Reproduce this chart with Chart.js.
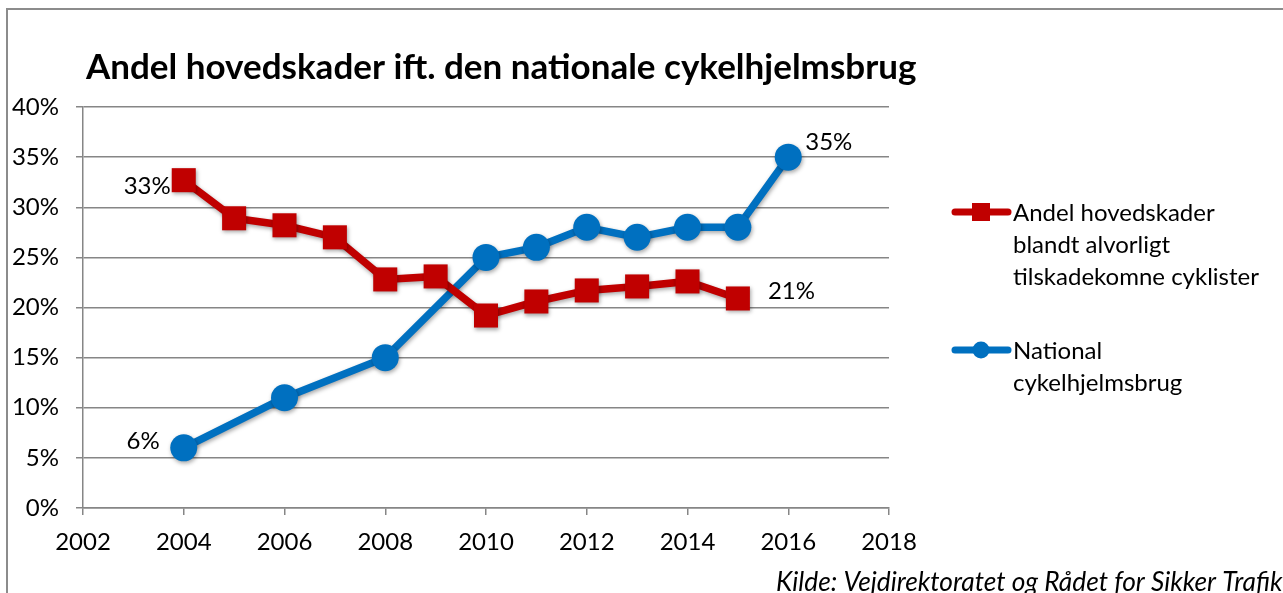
<!DOCTYPE html>
<html>
<head>
<meta charset="utf-8">
<script src="https://cdn.jsdelivr.net/npm/chart.js@4.4.0/dist/chart.umd.min.js"></script>
<style>
  html, body { margin: 0; padding: 0; background: #fff; }
  #wrap { width: 1283px; height: 593px; }
</style>
</head>
<body>
<div id="wrap"><canvas id="grafico"></canvas></div>
<script>
// dados
const anosSkader = [2004, 2005, 2006, 2007, 2008, 2009, 2010, 2011, 2012, 2013, 2014, 2015];
const andelSkader = [32.7, 28.9, 28.2, 27.0, 22.8, 23.1, 19.2, 20.6, 21.7, 22.1, 22.6, 20.9];

const anosHjelm = [2004, 2006, 2008, 2010, 2011, 2012, 2013, 2014, 2015, 2016];
const hjelmBrug = [6, 11, 15, 25, 26, 28, 27, 28, 28, 35];

const titulo = 'Andel hovedskader ift. den nationale cykelhjelmsbrug';
const legendaVermelha = ['Andel hovedskader', 'blandt alvorligt', 'tilskadekomne cyklister'];
const legendaAzul = ['National', 'cykelhjelmsbrug'];
const fonte = 'Kilde: Vejdirektoratet og Rådet for Sikker Trafik';

const VERMELHO = '#C00000';
const AZUL = '#0070C0';
const CINZA = '#868686';
const FONTE = 'Lato, "Open Sans", sans-serif';

// rótulos de dados: índice, texto, deslocamento
const rotulos = [
  { ds: 0, i: 0, texto: '33%', dx: -13, dy: 6, alinhar: 'right' },
  { ds: 0, i: 11, texto: '21%', dx: 30, dy: -7, alinhar: 'left' },
  { ds: 1, i: 0, texto: '6%', dx: -24, dy: -7, alinhar: 'right' },
  { ds: 1, i: 9, texto: '35%', dx: 17, dy: -15, alinhar: 'left' }
];

// moldura, título, legenda e fonte
const pluginExtras = {
  id: 'extras',
  beforeDraw(chart) {
    const ctx = chart.ctx;
    ctx.save();
    ctx.strokeStyle = '#8c8c8c';
    ctx.lineWidth = 2;
    ctx.beginPath();
    ctx.moveTo(7, 600);
    ctx.lineTo(7, 9);
    ctx.lineTo(1290, 9);
    ctx.stroke();
    ctx.restore();
  },
  beforeDatasetsDraw(chart) {
    chart.ctx.save();
    chart.ctx.shadowColor = 'rgba(0,0,0,0.35)';
    chart.ctx.shadowBlur = 4;
    chart.ctx.shadowOffsetX = 1;
    chart.ctx.shadowOffsetY = 2;
  },
  afterDatasetsDraw(chart) {
    chart.ctx.restore();
  },
  afterDraw(chart) {
    const ctx = chart.ctx;
    ctx.save();
    ctx.fillStyle = '#000';
    ctx.textBaseline = 'alphabetic';

    // título
    ctx.font = 'bold 35px ' + FONTE;
    ctx.textAlign = 'left';
    ctx.fillText(titulo, 86, 79);

    // rótulos dos pontos
    ctx.font = '24px ' + FONTE;
    ctx.textBaseline = 'middle';
    rotulos.forEach(r => {
      const p = chart.getDatasetMeta(r.ds).data[r.i];
      ctx.textAlign = r.alinhar;
      ctx.fillText(r.texto, p.x + r.dx, p.y + r.dy);
    });

    // legenda
    function itemLegenda (y, cor, estilo, linhas) {
      ctx.strokeStyle = cor;
      ctx.lineWidth = 7;
      ctx.lineCap = 'round';
      ctx.beginPath();
      ctx.moveTo(955, y);
      ctx.lineTo(1008, y);
      ctx.stroke();
      ctx.fillStyle = cor;
      if (estilo === 'rect') {
        ctx.fillRect(972, y - 9, 18, 18);
      } else {
        ctx.beginPath();
        ctx.arc(981, y, 8.5, 0, Math.PI * 2);
        ctx.fill();
      }
      ctx.fillStyle = '#000';
      ctx.textAlign = 'left';
      linhas.forEach((l, k) => ctx.fillText(l, 1013, y + 1 + k * 32));
    }
    itemLegenda(212, VERMELHO, 'rect', legendaVermelha);
    itemLegenda(350, AZUL, 'circle', legendaAzul);

    // fonte
    ctx.font = 'italic 26.3px ' + FONTE;
    ctx.textBaseline = 'alphabetic';
    ctx.fillText(fonte, 776, 591);
    ctx.restore();
  }
};

new Chart(document.getElementById('grafico'), {
  type: 'line',
  data: {
    datasets: [
      {
        label: legendaVermelha.join(' '),
        data: anosSkader.map((a, k) => ({ x: a, y: andelSkader[k] })),
        borderColor: VERMELHO,
        backgroundColor: VERMELHO,
        borderWidth: 7.5,
        pointStyle: 'rect',
        pointRadius: 17,
        pointBorderWidth: 0,
        tension: 0
      },
      {
        label: legendaAzul.join(' '),
        data: anosHjelm.map((a, k) => ({ x: a, y: hjelmBrug[k] })),
        borderColor: AZUL,
        backgroundColor: AZUL,
        borderWidth: 7.5,
        pointStyle: 'circle',
        pointRadius: 13.5,
        pointBorderWidth: 0,
        tension: 0
      }
    ]
  },
  options: {
    responsive: true,
    maintainAspectRatio: false,
    animation: false,
    layout: { padding: { top: 107, left: 0, right: 1283 - 889, bottom: 0 } },
    plugins: {
      legend: { display: false },
      tooltip: { enabled: false }
    },
    scales: {
      x: {
        type: 'linear',
        min: 2002,
        max: 2018,
        ticks: { stepSize: 2, color: '#000', font: { family: FONTE, size: 24 }, padding: 13,
                 callback: v => String(v), maxRotation: 0 },
        grid: { display: true, drawOnChartArea: false, color: CINZA, lineWidth: 1.5, tickLength: 7 },
        border: { color: CINZA, width: 1.5 },
        afterFit: s => { s.height = 593 - 508; }
      },
      y: {
        min: 0,
        max: 40,
        ticks: { stepSize: 5, color: '#000', font: { family: FONTE, size: 24 }, padding: 17,
                 callback: v => v + '%' },
        grid: { color: CINZA, lineWidth: 1.5, tickLength: 7 },
        border: { color: CINZA, width: 1.5 },
        afterFit: s => { s.width = 83; }
      }
    }
  },
  plugins: [pluginExtras]
});
</script>
</body>
</html>
